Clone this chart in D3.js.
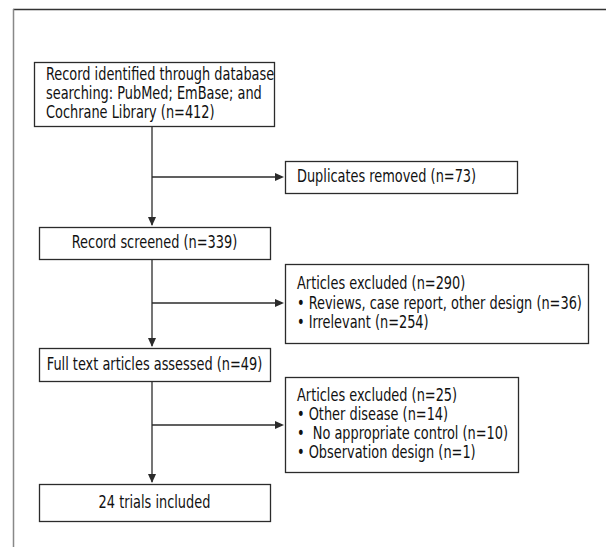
<!DOCTYPE html>
<html><head><meta charset="utf-8">
<script src="https://cdn.jsdelivr.net/npm/d3@7"></script>
<style>body{margin:0;background:#fff}svg{display:block}text{white-space:pre}</style>
</head><body>
<script>
// Flowchart content
const mainBoxes = [
  {lines:["Record identified through database","searching: PubMed; EmBase; and","Cochrane Library (n=412)"], align:"left"},
  {lines:["Record screened (n=339)"], align:"center"},
  {lines:["Full text articles assessed (n=49)"], align:"center"},
  {lines:["24 trials included"], align:"center"}
];
const sideBoxes = [
  {lines:["Duplicates removed (n=73)"]},
  {lines:["Articles excluded (n=290)","• Reviews, case report, other design (n=36)","• Irrelevant (n=254)"]},
  {lines:["Articles excluded (n=25)","• Other disease (n=14)","•  No appropriate control (n=10)","• Observation design (n=1)"]}
];
// layout geometry
const mainGeom = [[34,62,274,126],[39,227,270,259],[39,348,270,381],[39,484,270,521]];
const sideGeom = [[285,161,517,193],[285,264,588,343],[285,377,518,472]];
const branchY = [177,303,425];
const trunkX = 152;

const W=606,H=547;
const svg=d3.select("body").append("svg").attr("width",W).attr("height",H);
const stroke="#2b2b2b";
const font="'DejaVu Sans Condensed','DejaVu Sans',sans-serif";
const fs=17, lh=19.2, sx=0.845;

// frame
svg.append("line").attr("x1",13).attr("x2",606).attr("y1",9.5).attr("y2",9.5).attr("stroke","#333").attr("stroke-width",1.5);
svg.append("line").attr("x1",13.5).attr("x2",13.5).attr("y1",9).attr("y2",547).attr("stroke","#888").attr("stroke-width",1.5);

function arrowHead(x,y,dir){
  const L=9,Hh=4;
  let pts;
  if(dir==="down") pts=[[x,y],[x-Hh,y-L],[x+Hh,y-L]];
  else pts=[[x,y],[x-L,y-Hh],[x-L,y+Hh]];
  svg.append("path").attr("d",d3.line()(pts)+"Z").attr("fill",stroke);
}

for(let i=0;i<mainGeom.length-1;i++){
  const y1=mainGeom[i][3], y2=mainGeom[i+1][1];
  svg.append("line").attr("x1",trunkX).attr("x2",trunkX).attr("y1",y1).attr("y2",y2-2).attr("stroke",stroke).attr("stroke-width",1.3);
  arrowHead(trunkX,y2-1,"down");
}
branchY.forEach((y,i)=>{
  const x2=sideGeom[i][0];
  svg.append("line").attr("x1",trunkX).attr("x2",x2-3).attr("y1",y).attr("y2",y).attr("stroke",stroke).attr("stroke-width",1.3);
  arrowHead(x2-1,y,"right");
});

function drawBox(g,lines,align){
  const [x0,y0,x1,y1]=g;
  svg.append("rect").attr("x",x0+0.5).attr("y",y0+0.5).attr("width",x1-x0).attr("height",y1-y0)
    .attr("fill","#fff").attr("stroke",stroke).attr("stroke-width",1.3);
  const n=lines.length;
  const cy=(y0+y1)/2;
  const firstBase=cy-(n-1)*lh/2+5;
  lines.forEach((t,j)=>{
    const x=align==="center"?(x0+x1)/2:x0+12;
    svg.append("text").attr("transform",`translate(${x},${firstBase+j*lh}) scale(${sx},1)`)
      .attr("text-anchor",align==="center"?"middle":"start")
      .attr("xml:space","preserve")
      .attr("font-family",font).attr("font-size",fs).attr("fill","#111").text(t);
  });
}
mainBoxes.forEach((b,i)=>drawBox(mainGeom[i],b.lines,b.align==="left"?"left":"center"));
sideBoxes.forEach((b,i)=>drawBox(sideGeom[i],b.lines,"left"));
</script>
</body></html>
